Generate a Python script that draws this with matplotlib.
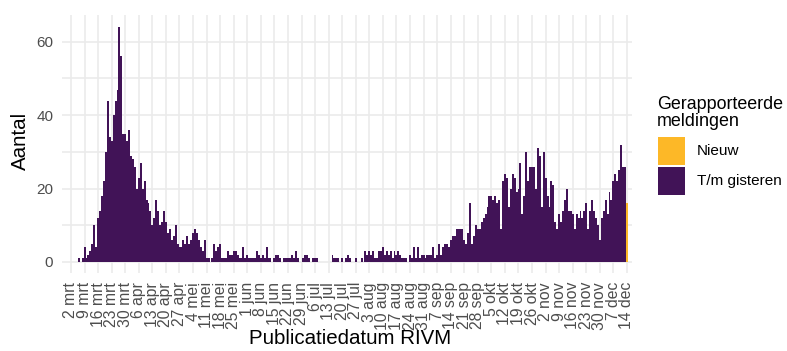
import matplotlib
matplotlib.use("Agg")
import matplotlib.pyplot as plt
import matplotlib.dates as mdates
from matplotlib.patches import Rectangle
import pandas as pd

# ---- data: T/m gisteren, daily from 27 Feb 2020 ----
start_datum = "2020-02-27"
w_feb_mrt = [0, 0, 0, 0, 0, 0, 0, 0,
             1, 0, 1, 4, 1, 2, 3, 5, 10, 4, 12, 14, 18, 22, 30, 44, 34, 33, 40, 44, 47]
w_mrt_apr = [64, 56, 35, 35, 33, 36, 29, 28, 26, 20, 23, 27, 20, 22, 17, 16, 14, 10,
             12, 17, 14, 10, 11, 14, 11, 8, 9, 6, 7]
w_apr_jun = [10, 5, 4, 4, 6, 5, 7, 5, 6, 8, 9, 8, 6, 4, 3, 6, 1, 1, 0, 1, 5, 3, 4, 5,
             1, 1, 1, 3, 2, 2, 3, 3, 2, 1, 1, 4, 1, 2, 1, 1, 1, 1, 3, 2, 1, 2, 1, 4,
             1, 1, 0, 1, 2, 2, 1, 0, 1]
w_jun_aug = [1, 1, 1, 2, 1, 3, 1, 0, 0, 1, 2, 2, 1, 0, 1, 1, 1, 0, 0, 0, 0, 0, 0, 0,
             2, 1, 1, 1, 0, 1, 0, 1, 2, 1, 0, 0, 1, 0, 0, 1, 0, 3, 2, 3, 2, 3, 1, 1,
             3, 3, 4, 2, 3, 2, 3, 1, 3, 2]
w_aug_okt = [3, 2, 1, 1, 1, 0, 2, 1, 4, 1, 4, 1, 2, 2, 1, 2, 2, 2, 4, 1, 2, 5, 2, 4,
             5, 5, 4, 6, 7, 7, 9, 9, 9, 9, 6, 5, 8, 16, 5, 7, 10, 9, 9, 11, 12, 13, 15,
             18, 18, 17, 18, 16, 17, 9, 22, 24, 23, 15, 20]
w_okt_dec = [24, 23, 19, 20, 27, 13, 18, 30, 22, 26, 26, 26, 20, 31, 29, 15, 30, 23,
             18, 15, 22, 21, 11, 9, 13, 11, 14, 17, 20, 14, 14, 13, 9, 13, 12, 14, 12,
             14, 16, 9, 14, 17, 14, 12, 10, 6, 12, 14, 17, 13, 19, 17, 22, 24, 22, 25,
             32, 26, 26, 0]
tm_gisteren = w_feb_mrt + w_mrt_apr + w_apr_jun + w_jun_aug + w_aug_okt + w_okt_dec

# ---- data: Nieuw ----
nieuw_datum = ["2020-12-14"]
nieuw_waarde = [16]

maanden = {3: "mrt", 4: "apr", 5: "mei", 6: "jun", 7: "jul", 8: "aug",
           9: "sep", 10: "okt", 11: "nov", 12: "dec"}
tick_start, tick_eind = "2020-03-02", "2020-12-14"
legend_titel = "Gerapporteerde\nmeldingen"
legend_labels = ["Nieuw", "T/m gisteren"]

col_paars = "#411357"
col_oranje = "#FDB827"

plt.rcParams['font.family'] = ['Liberation Sans', 'DejaVu Sans']

datums = pd.date_range(start_datum, periods=len(tm_gisteren), freq="D")
nd = pd.to_datetime(nieuw_datum)
tick_dates = pd.date_range(tick_start, tick_eind, freq="7D")
tick_labels = [f"{d.day} {maanden[d.month]}" for d in tick_dates]

W, H = 787, 351
fig = plt.figure(figsize=(W / 100, H / 100), dpi=100)
ax = fig.add_axes([61.7 / W, 78 / H, (632 - 61.7) / W, 258 / H])

x = mdates.date2num(datums)
ax.bar(x, tm_gisteren, width=1.0, color=col_paars, linewidth=0, zorder=2)
basis = [tm_gisteren[list(datums).index(d)] for d in nd]
ax.bar(mdates.date2num(nd), nieuw_waarde, bottom=basis, width=1.0,
       color=col_oranje, linewidth=0, zorder=2)

x0 = mdates.date2num(pd.Timestamp(tick_start))
ax.set_xlim(x0 - 4.8, x0 + 289.6)
ax.set_ylim(-3.0, 67.3)
ax.set_xticks(mdates.date2num(tick_dates))
ax.set_xticklabels(tick_labels, rotation=90, fontsize=11.3, color="#4D4D4D")
ax.set_yticks([0, 20, 40, 60])
ax.set_yticks([10, 30, 50], minor=True)
ax.tick_params(axis="y", labelsize=11, labelcolor="#4D4D4D")
ax.tick_params(which="both", length=0)
ax.tick_params(axis="x", pad=6.5)
ax.tick_params(axis="y", pad=6)
ax.grid(True, which="both", color="#EBEBEB", linewidth=1.2)
ax.set_axisbelow(True)
for s in ax.spines.values():
    s.set_visible(False)

fig.text(20 / W, 1 - 141 / H, "Aantal", rotation=90, ha="center", va="center",
         fontsize=14.8, color="black")
fig.text(350 / W, 1 - 338 / H, "Publicatiedatum RIVM", ha="center", va="center",
         fontsize=14.8, color="black")

# legend (drawn in figure pixels)
def fx(px):
    return px / W

def fy(py):
    return 1 - py / H

fig.text(fx(657), fy(96), legend_titel, ha="left", va="top", fontsize=12.9,
         linespacing=0.98, color="black")
key_top = [136.5, 166.5]
for kt, col, lab in zip(key_top, [col_oranje, col_paars], legend_labels):
    fig.add_artist(Rectangle((fx(658), fy(kt + 28.5)), 27 / W, 28.5 / H,
                             transform=fig.transFigure, facecolor=col,
                             edgecolor="none"))
    fig.text(fx(697), fy(kt + 14.5), lab, ha="left", va="center", fontsize=11,
             color="black")

fig.savefig("out.png", dpi=100)
